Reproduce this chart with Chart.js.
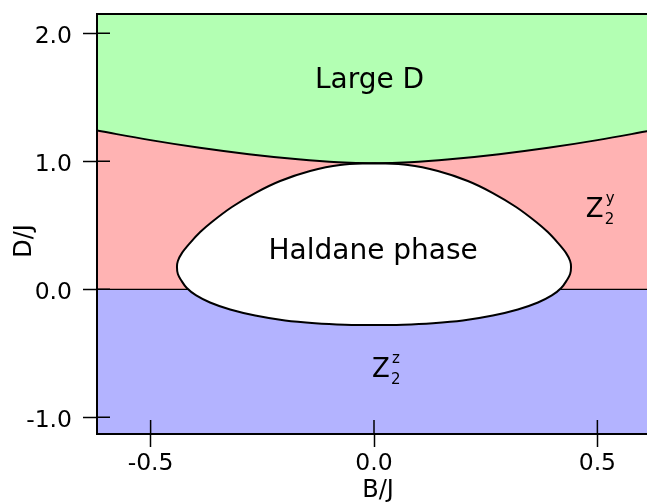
<!DOCTYPE html>
<html>
<head>
<meta charset="utf-8">
<script src="https://cdn.jsdelivr.net/npm/chart.js@4.4.0/dist/chart.umd.min.js"></script>
<style>
  html, body { margin: 0; padding: 0; background: #fff; overflow: hidden; }
  #wrap { width: 700px; height: 503px; }
</style>
</head>
<body>
<div id="wrap"><canvas id="fase" width="700" height="503"></canvas></div>
<script>
// ejes
const xTicks = [-0.5, 0.0, 0.5];
const yTicks = [-1.0, 0.0, 1.0, 2.0];

// frontera Large D / Z2y
const upperB = [-0.62, -0.5, -0.39, -0.28, -0.17, -0.08, 0, 0.08, 0.17, 0.28, 0.39, 0.5, 0.62];
const upperD = [1.24, 1.165, 1.105, 1.055, 1.015, 0.992, 0.985, 0.992, 1.015, 1.055, 1.105, 1.165, 1.24];

// linea D = 0 (Z2y / Z2z)
const zeroB = [-0.62, 0.62];
const zeroD = [0, 0];

// contorno de la fase Haldane (cerrado, empieza arriba y va por la izquierda)
const haldaneB = [0, -0.076, -0.143, -0.21, -0.266, -0.318, -0.363, -0.389, -0.412, -0.43, -0.439, -0.441,
                  -0.439, -0.432, -0.419, -0.398, -0.367, -0.322, -0.266, -0.199, -0.132, -0.065, 0,
                  0.065, 0.132, 0.199, 0.266, 0.322, 0.367, 0.398, 0.419, 0.432, 0.439,
                  0.441, 0.439, 0.43, 0.412, 0.389, 0.363, 0.318, 0.266, 0.21, 0.143, 0.076, 0];
const haldaneD = [0.985, 0.971, 0.924, 0.846, 0.752, 0.643, 0.526, 0.447, 0.361, 0.283, 0.221, 0.174,
                  0.119, 0.073, 0.01, -0.048, -0.103, -0.158, -0.205, -0.244, -0.265, -0.276, -0.279,
                  -0.276, -0.265, -0.244, -0.205, -0.158, -0.103, -0.048, 0.01, 0.073, 0.119,
                  0.174, 0.221, 0.283, 0.361, 0.447, 0.526, 0.643, 0.752, 0.846, 0.924, 0.971, 0.985];

// etiquetas de fases
const etiquetas = [
  { texto: "Large D", b: -0.01, d: 1.576 },
  { texto: "Haldane phase", b: -0.002, d: 0.234 }
];
const etiquetasZ = [
  { sup: "y", b: 0.474, d: 0.5625 },
  { sup: "z", b: -0.0045, d: -0.6875 }
];

function puntos(xs, ys) {
  return xs.map((x, i) => ({ x: x, y: ys[i] }));
}

const verde = "#b3ffb3";
const rojo = "#ffb3b3";
const azul = "#b3b3ff";

Chart.defaults.font.family = "'DejaVu Sans', sans-serif";
Chart.defaults.color = "#000";

// marco, ticks hacia dentro y textos
const extras = {
  id: "extras",
  afterDatasetsDraw(chart) {
    const ctx = chart.ctx;
    const a = chart.chartArea;
    const sx = chart.scales.x;
    const sy = chart.scales.y;
    ctx.save();
    ctx.strokeStyle = "#000";
    ctx.lineWidth = 2;
    ctx.strokeRect(a.left, a.top, a.right - a.left, a.bottom - a.top);

    ctx.lineWidth = 1.5;
    ctx.beginPath();
    yTicks.forEach(v => {
      const y = sy.getPixelForValue(v);
      ctx.moveTo(a.left, y);
      ctx.lineTo(a.left + 13, y);
    });
    xTicks.forEach(v => {
      const x = sx.getPixelForValue(v);
      ctx.moveTo(x, a.bottom);
      ctx.lineTo(x, a.bottom - 14);
    });
    ctx.stroke();

    ctx.fillStyle = "#000";
    ctx.textBaseline = "alphabetic";
    ctx.textAlign = "center";
    ctx.font = "28px 'DejaVu Sans'";
    etiquetas.forEach(e => {
      ctx.fillText(e.texto, sx.getPixelForValue(e.b), sy.getPixelForValue(e.d));
    });

    ctx.textAlign = "left";
    etiquetasZ.forEach(e => {
      const x = sx.getPixelForValue(e.b);
      const y = sy.getPixelForValue(e.d);
      ctx.font = "26px 'DejaVu Sans'";
      ctx.fillText("Z", x, y);
      ctx.font = "15px 'DejaVu Sans'";
      ctx.fillText("2", x + 19, y + 7);
      ctx.fillText(e.sup, x + 20, y - 14);
    });

    // titulos de ejes
    ctx.font = "24px 'DejaVu Sans'";
    ctx.textAlign = "center";
    ctx.textBaseline = "middle";
    ctx.fillText("B/J", 378, 491);
    ctx.translate(25, 241);
    ctx.rotate(-Math.PI / 2);
    ctx.fillText("D/J", 0, 0);
    ctx.restore();
  }
};

new Chart(document.getElementById("fase"), {
  type: "line",
  data: {
    datasets: [
      {
        data: puntos(haldaneB, haldaneD),
        borderColor: "#000",
        borderWidth: 2,
        backgroundColor: "#fff",
        fill: "shape",
        tension: 0.35,
        pointRadius: 0
      },
      {
        data: puntos(upperB, upperD),
        borderColor: "#000",
        borderWidth: 2,
        backgroundColor: verde,
        fill: "end",
        tension: 0.4,
        pointRadius: 0
      },
      {
        data: puntos(zeroB, zeroD),
        borderColor: "#000",
        borderWidth: 1.2,
        backgroundColor: azul,
        fill: "start",
        pointRadius: 0
      },
      {
        data: puntos(upperB, upperD),
        borderWidth: 0,
        borderColor: "rgba(0,0,0,0)",
        backgroundColor: rojo,
        fill: "origin",
        tension: 0.4,
        pointRadius: 0
      }
    ]
  },
  options: {
    responsive: false,
    animation: false,
    events: [],
    layout: { padding: { left: 0, top: 14, right: 49, bottom: 0 } },
    plugins: {
      legend: { display: false },
      tooltip: { enabled: false }
    },
    scales: {
      x: {
        type: "linear",
        min: -0.62,
        max: 0.62,
        afterFit(scale) { scale.height = 69; scale.paddingLeft = 0; scale.paddingRight = 0; },
        afterBuildTicks(scale) { scale.ticks = xTicks.map(v => ({ value: v })); },
        grid: { drawOnChartArea: false, tickLength: 13, tickColor: "#000", tickWidth: 1.5 },
        border: { display: true, color: "#000", width: 2 },
        ticks: {
          font: { size: 23.5 },
          color: "#000",
          padding: 3,
          maxRotation: 0,
          autoSkip: false,
          callback: v => v.toFixed(1)
        }
      },
      y: {
        type: "linear",
        min: -1.13,
        max: 2.15,
        afterFit(scale) { scale.width = 97; scale.paddingTop = 0; scale.paddingBottom = 0; },
        afterBuildTicks(scale) { scale.ticks = yTicks.map(v => ({ value: v })); },
        grid: { drawOnChartArea: false, tickLength: 14, tickColor: "#000", tickWidth: 1.5 },
        border: { display: true, color: "#000", width: 2 },
        ticks: {
          font: { size: 23.5 },
          color: "#000",
          padding: 11,
          labelOffset: 4,
          autoSkip: false,
          callback: v => v.toFixed(1)
        }
      }
    }
  },
  plugins: [extras]
});
</script>
</body>
</html>
